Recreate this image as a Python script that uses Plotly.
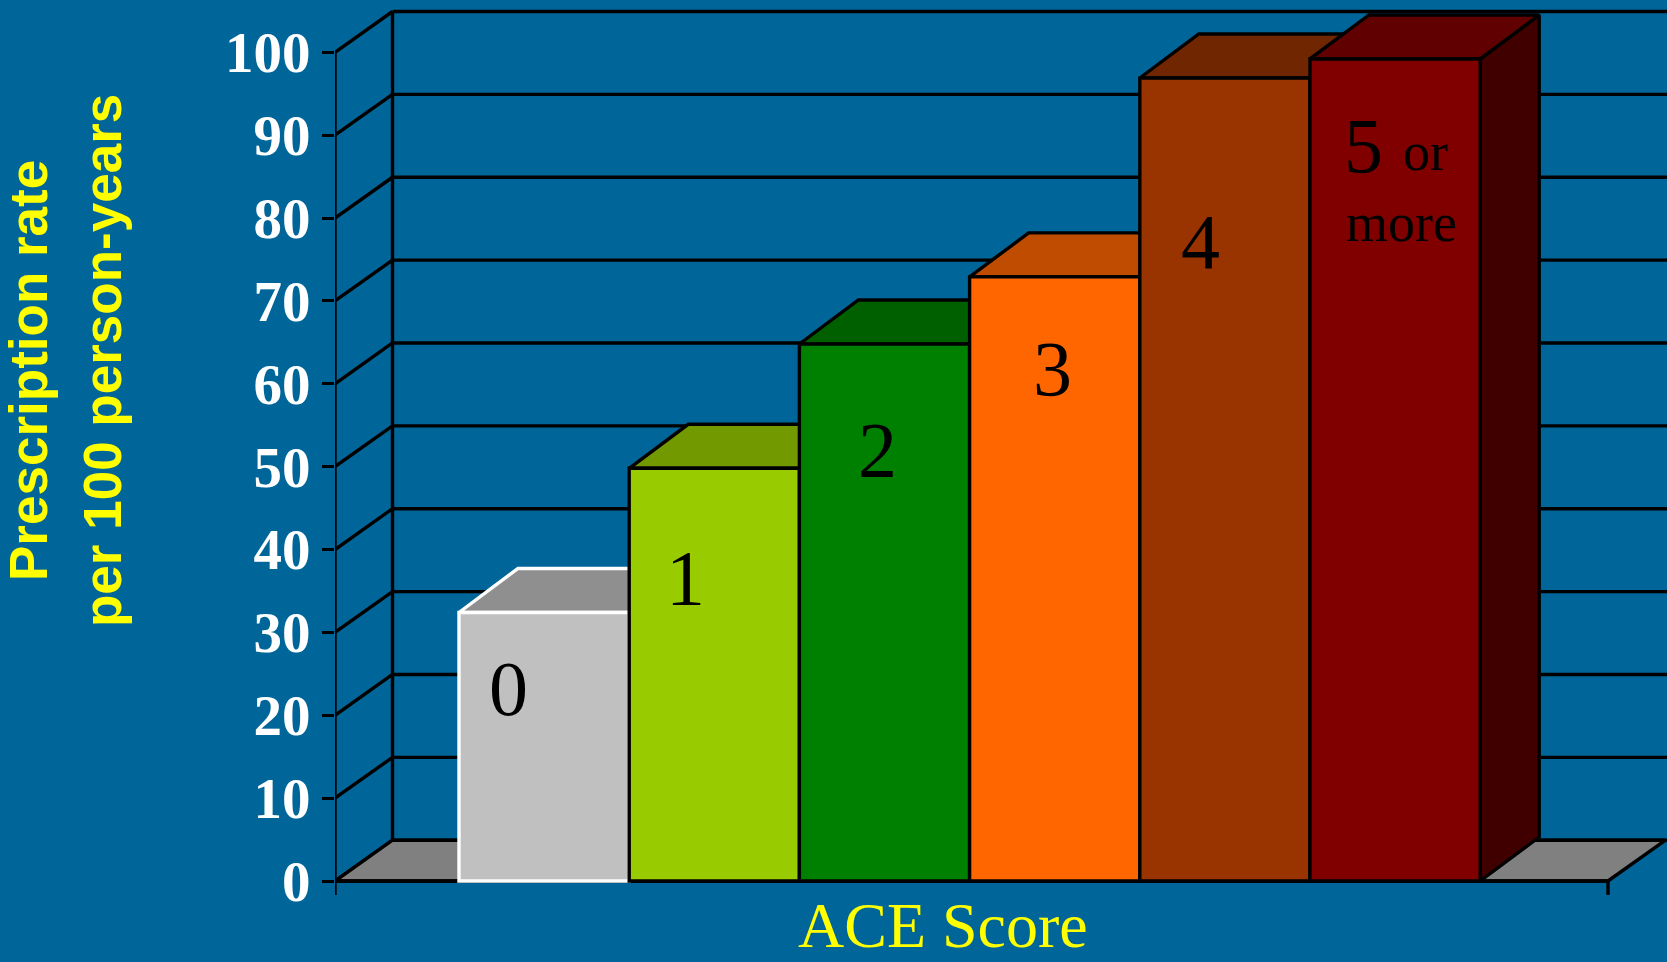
import plotly.graph_objects as go

# ---------------- data ----------------
categories = [0, 1, 2, 3, 4, 5]
category_labels = ["0", "1", "2", "3", "4", "5"]
values = [32.4, 49.8, 64.8, 72.9, 96.9, 99.2]
y_ticks = [0, 10, 20, 30, 40, 50, 60, 70, 80, 90, 100]
y_tick_labels = [str(v) for v in y_ticks]

# ---------------- styles ----------------
front_colors = ["#C0C0C0", "#99CC00", "#008000", "#FF6600", "#993300", "#800000"]
top_colors = ["#8F8F8F", "#739900", "#006000", "#BF4C00", "#702600", "#600000"]
side_colors = ["#808080", "#5C7A00", "#004000", "#993D00", "#5C1F00", "#400000"]
edge_colors = ["white", "black", "black", "black", "black", "black"]
BG = "#006699"
LW = 3.4

W, H = 1667, 962
UNIT = 170.2          # px per category
C0 = 544.1            # px of category 0 centre
PXV = 8.287           # px per value unit
Y0PX = 881            # px of value 0
ML = 335

x_left = (ML - C0) / UNIT
x_right_floor = (1608 - C0) / UNIT
x_max = (W - C0) / UNIT
y_min = -(H - Y0PX) / PXV
y_max = Y0PX / PXV

DXW, DYW = 57.5 / UNIT, 40.8 / PXV   # wall depth
DXB, DYB = 59.0 / UNIT, 44.0 / PXV   # bar depth
TICK_BELOW = -14 / PXV

fig = go.Figure()


def poly(xs, ys, fill, line_color="black", width=LW):
    fig.add_trace(go.Scatter(
        x=xs + [xs[0]], y=ys + [ys[0]], mode="lines", fill="toself",
        fillcolor=fill, line=dict(color=line_color, width=width),
        hoverinfo="skip", showlegend=False))


def line(xs, ys, width=LW):
    fig.add_trace(go.Scatter(
        x=xs, y=ys, mode="lines", line=dict(color="black", width=width),
        hoverinfo="skip", showlegend=False, connectgaps=False))


# back wall gridlines
gx, gy = [], []
for v in y_ticks:
    gx += [x_left + DXW, x_max + 1, None]
    gy += [v + DYW, v + DYW, None]
line(gx, gy)
# back wall left edge
line([x_left + DXW, x_left + DXW], [DYW, y_ticks[-1] + DYW])
# left wall diagonals
dx_, dy_ = [], []
for v in y_ticks:
    dx_ += [x_left, x_left + DXW, None]
    dy_ += [v, v + DYW, None]
line(dx_, dy_)
# floor
poly([x_left, x_right_floor, x_right_floor + DXW, x_left + DXW],
     [0, 0, DYW, DYW], "#808080")
# front axis + right tick
line([x_left, x_left], [TICK_BELOW, y_ticks[-1]])
line([x_right_floor, x_right_floor], [TICK_BELOW, 0])
line([x_left, x_right_floor], [0, 0])

# bar side and top faces
for c, v, tc, sc, ec in zip(categories, values, top_colors, side_colors, edge_colors):
    l, r = c - 0.5, c + 0.5
    poly([r, r, r + DXB, r + DXB], [0, v, v + DYB, DYB], sc, ec)
    poly([l, r, r + DXB, l + DXB], [v, v, v + DYB, v + DYB], tc, ec)

# bar front faces (overlay subplot so they sit above the 3D faces)
fig.add_trace(go.Bar(
    x=categories, y=values, width=[1] * len(categories),
    marker=dict(color=front_colors, line=dict(color=edge_colors, width=LW)),
    xaxis="x2", yaxis="y2", hoverinfo="skip", showlegend=False))

# labels on bars
label_pos = [(-0.212, 23.2), (0.828, 36.6), (1.959, 52.1), (2.988, 61.8),
             (3.854, 77.2), (4.817, 88.7)]
for txt, (lx, ly) in zip(category_labels, label_pos):
    fig.add_annotation(x=lx, y=ly, xref="x2", yref="y2", text=txt, showarrow=False,
                       xanchor="center", yanchor="middle",
                       font=dict(family="Liberation Serif", size=78, color="black"))
fig.add_annotation(x=5.179, y=88.0, xref="x2", yref="y2", text="or", showarrow=False,
                   xanchor="center", yanchor="middle",
                   font=dict(family="Liberation Serif", size=54, color="black"))
fig.add_annotation(x=5.038, y=79.4, xref="x2", yref="y2", text="more", showarrow=False,
                   xanchor="center", yanchor="middle",
                   font=dict(family="Liberation Serif", size=54, color="black"))

# axis titles
fig.add_annotation(x=(943 - ML) / (W - ML), y=1 - 925 / H, xref="paper", yref="paper",
                   text="ACE Score", showarrow=False, xanchor="center", yanchor="middle",
                   font=dict(family="Liberation Serif", size=64, color="#FFFF00"))
for txt, px, py in [("Prescription rate", 29, 371), ("per 100 person-years", 102, 361)]:
    fig.add_annotation(x=(px - ML) / (W - ML), y=1 - py / H, xref="paper", yref="paper",
                       text="<b>%s</b>" % txt, showarrow=False,
                       textangle=-90, xanchor="center", yanchor="middle",
                       font=dict(family="Liberation Sans", size=53, color="#FFFF00"))

axis_common = dict(showgrid=False, zeroline=False, fixedrange=True)
fig.update_layout(
    width=W, height=H,
    margin=dict(l=ML, r=0, t=0, b=0, autoexpand=False),
    paper_bgcolor=BG, plot_bgcolor=BG,
    showlegend=False,
    xaxis=dict(range=[x_left, x_max], visible=False, **axis_common),
    yaxis=dict(range=[y_min, y_max], tickvals=y_ticks, ticktext=y_tick_labels,
               ticks="outside", ticklen=12, tickwidth=LW, tickcolor="black",
               showline=False, automargin=False, ticklabelstandoff=0,
               tickfont=dict(family="Liberation Serif", size=57, color="white",
                             weight="bold"),
               **axis_common),
    xaxis2=dict(range=[x_left, x_max], overlaying="x", visible=False, **axis_common),
    yaxis2=dict(range=[y_min, y_max], overlaying="y", visible=False, **axis_common),
)

fig.write_html("out.html", config={"displayModeBar": False},
               post_script="document.body.style.margin='0';"
                           "document.body.style.overflow='hidden';"
                           "document.body.style.background='%s';" % BG)
